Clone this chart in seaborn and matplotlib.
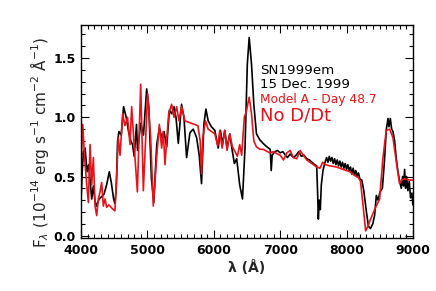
import matplotlib
matplotlib.use("Agg")
import matplotlib.pyplot as plt
import seaborn as sns
import pandas as pd
from matplotlib.ticker import MultipleLocator

# Observed spectrum SN1999em (black)
obs_wave = [4000, 4018, 4035, 4060, 4090, 4115, 4160, 4185, 4210, 4235, 4270, 4310, 4345,
            4385, 4425, 4455, 4490, 4510, 4530, 4550, 4570, 4605, 4640, 4680, 4715, 4750,
            4775, 4800, 4835, 4850, 4900, 4940, 4988, 5020, 5060, 5095, 5140, 5180, 5215,
            5250, 5290, 5330, 5365, 5400, 5430, 5465, 5514, 5550, 5590, 5640, 5690, 5740,
            5780, 5815, 5850, 5881, 5915, 5965, 6015, 6066, 6100, 6130, 6165, 6200, 6240,
            6280, 6310, 6345, 6390, 6432, 6470, 6505, 6533, 6568, 6603, 6643, 6693, 6743,
            6800, 6850, 6865, 6880, 6920, 6960, 7000, 7040, 7080, 7110, 7150, 7200, 7240,
            7280, 7320, 7360, 7400, 7440, 7480, 7520, 7550, 7565, 7575, 7590, 7605, 7620,
            7645, 7670, 7700, 7720, 7740, 7760, 7780, 7800, 7820, 7840, 7860, 7880, 7900,
            7920, 7940, 7960, 7980, 8000, 8020, 8040, 8060, 8080, 8100, 8120, 8140, 8160,
            8180, 8200, 8230, 8260, 8300, 8330, 8360, 8395, 8423, 8449, 8475, 8505, 8540,
            8570, 8600, 8625, 8640, 8660, 8680, 8700, 8725, 8750, 8775, 8800, 8825, 8845,
            8860, 8875, 8890, 8905, 8925, 8945, 8965, 8985, 9000]
obs_flux = [0.31, 0.55, 0.71, 0.74, 0.54, 0.60, 0.31, 0.42, 0.29, 0.25, 0.31, 0.33, 0.35,
            0.43, 0.54, 0.45, 0.31, 0.27, 0.40, 0.80, 0.88, 0.85, 1.09, 1.00, 0.88, 0.80,
            0.77, 0.67, 0.94, 0.72, 0.95, 0.85, 1.24, 1.09, 0.48, 0.28, 0.77, 0.91, 0.83,
            0.88, 0.75, 1.06, 1.03, 1.09, 1.00, 0.78, 1.11, 1.00, 0.66, 0.87, 0.90, 0.83,
            0.68, 0.44, 0.94, 1.07, 0.97, 0.92, 0.89, 0.74, 0.89, 0.77, 0.89, 0.74, 0.86,
            0.71, 0.61, 0.65, 0.43, 0.31, 0.74, 1.45, 1.675, 1.45, 1.11, 0.86, 0.81, 0.78,
            0.75, 0.73, 0.55, 0.68, 0.71, 0.72, 0.70, 0.71, 0.68, 0.66, 0.69, 0.66, 0.68,
            0.71, 0.67, 0.68, 0.65, 0.64, 0.62, 0.60, 0.59, 0.35, 0.14, 0.30, 0.22, 0.43,
            0.55, 0.61, 0.66, 0.62, 0.67, 0.63, 0.66, 0.61, 0.65, 0.60, 0.64, 0.59, 0.63,
            0.58, 0.62, 0.57, 0.61, 0.56, 0.60, 0.55, 0.58, 0.52, 0.57, 0.51, 0.55, 0.50,
            0.53, 0.48, 0.47, 0.38, 0.20, 0.08, 0.06, 0.10, 0.17, 0.34, 0.30, 0.37, 0.40,
            0.62, 0.90, 0.99, 0.92, 0.99, 0.90, 0.88, 0.80, 0.65, 0.54, 0.46, 0.40, 0.50,
            0.42, 0.56, 0.40, 0.50, 0.38, 0.46, 0.32, 0.36, 0.26]

# Model A - Day 48.7, no D/Dt (red)
mod_wave = [4000, 4025, 4050, 4085, 4110, 4135, 4160, 4185, 4210, 4235, 4260, 4285, 4310,
            4335, 4360, 4386, 4420, 4450, 4486, 4510, 4537, 4560, 4587, 4627, 4660, 4700,
            4737, 4762, 4802, 4848, 4898, 4938, 5003, 5048, 5088, 5138, 5179, 5214, 5239,
            5264, 5289, 5320, 5364, 5400, 5440, 5475, 5514, 5565, 5660, 5760, 5795, 5815,
            5835, 5875, 5915, 5965, 6015, 6060, 6090, 6125, 6165, 6200, 6240, 6280, 6320,
            6355, 6390, 6420, 6460, 6490, 6533, 6568, 6603, 6643, 6693, 6743, 6843, 6900,
            6960, 7000, 7050, 7100, 7150, 7200, 7250, 7300, 7350, 7400, 7450, 7500, 7550,
            7600, 7640, 7680, 7750, 7850, 7950, 8050, 8120, 8180, 8210, 8250, 8288, 8330,
            8348, 8423, 8499, 8549, 8599, 8649, 8699, 8749, 8799, 8830, 8874, 8950, 9000]
mod_flux = [0.60, 0.94, 0.68, 0.43, 0.28, 0.77, 0.43, 0.66, 0.25, 0.17, 0.31, 0.37, 0.45,
            0.25, 0.31, 0.24, 0.26, 0.24, 0.22, 0.21, 0.51, 0.83, 0.68, 1.03, 0.93, 1.00,
            0.77, 1.09, 0.74, 0.37, 1.28, 0.38, 1.20, 0.83, 0.25, 0.66, 0.94, 0.74, 0.88,
            0.60, 0.80, 1.03, 1.11, 1.00, 1.09, 0.97, 1.09, 0.97, 0.95, 0.93, 0.80, 0.52,
            0.83, 0.97, 0.90, 0.88, 0.86, 0.76, 0.89, 0.74, 0.89, 0.72, 0.86, 0.75, 0.71,
            0.67, 0.77, 0.68, 1.00, 1.05, 1.17, 1.03, 0.80, 0.75, 0.73, 0.73, 0.70, 0.71,
            0.69, 0.68, 0.64, 0.70, 0.72, 0.66, 0.65, 0.72, 0.68, 0.64, 0.62, 0.60, 0.58,
            0.57, 0.62, 0.60, 0.59, 0.58, 0.56, 0.54, 0.51, 0.49, 0.46, 0.25, 0.04, 0.09,
            0.12, 0.22, 0.31, 0.66, 0.89, 0.90, 0.83, 0.63, 0.44, 0.47, 0.48, 0.47, 0.47]

x_ticks = [4000, 5000, 6000, 7000, 8000, 9000]
y_ticks = [0.0, 0.5, 1.0, 1.5]
labels = ["SN1999em", "15 Dec. 1999", "Model A - Day 48.7", "No D/Dt"]

sns.set_theme(style="ticks")
plt.rcParams['font.family'] = ['DejaVu Sans']
plt.rcParams['mathtext.fontset'] = 'dejavusans'

RED = "#e8121a"
fig = plt.figure(figsize=(4.36, 2.91), dpi=100)
ax = fig.add_axes([0.186, 0.182, 0.761, 0.732])

obs = pd.DataFrame({"wave": obs_wave, "flux": obs_flux})
mod = pd.DataFrame({"wave": mod_wave, "flux": mod_flux})
sns.lineplot(data=obs, x="wave", y="flux", color="black", lw=1.2, estimator=None, sort=False, ax=ax)
sns.lineplot(data=mod, x="wave", y="flux", color=RED, lw=1.2, estimator=None, sort=False, ax=ax)

ax.set_xlim(4000, 9000)
ax.set_ylim(-0.02, 1.78)
ax.set_xticks(x_ticks)
ax.set_xticklabels([str(t) for t in x_ticks], fontweight="bold")
ax.set_yticks(y_ticks)
ax.set_yticklabels([f"{t:.1f}" for t in y_ticks], fontweight="bold")
ax.xaxis.set_minor_locator(MultipleLocator(100))
ax.yaxis.set_minor_locator(MultipleLocator(0.1))
ax.tick_params(which="both", direction="in", top=True, right=True, colors="black",
               labelsize=9, width=0.8)
ax.tick_params(which="major", length=6)
ax.tick_params(which="minor", length=3)
ax.tick_params(axis="x", which="major", pad=4)
ax.tick_params(axis="y", which="major", pad=4)
for s in ax.spines.values():
    s.set_linewidth(1.0)
    s.set_color("black")

ax.set_xlabel("λ (Å)", fontsize=10, fontweight="bold", va="top")
ax.xaxis.set_label_coords(0.5, -0.105)
ax.set_ylabel(r"F$_\lambda$ (10$^{-14}$ erg s$^{-1}$ cm$^{-2}$ Å$^{-1}$)", fontsize=11)
ax.yaxis.set_label_coords(-0.09, 0.45)

ax.text(6696, 1.368, labels[0], fontsize=9.6, color="black", va="baseline")
ax.text(6696, 1.250, labels[1], fontsize=9.6, color="black", va="baseline")
ax.text(6696, 1.125, labels[2], fontsize=8.8, color=RED, va="baseline")
ax.text(6696, 0.975, labels[3], fontsize=13, color=RED, va="baseline")

fig.savefig("out.png", dpi=100)
